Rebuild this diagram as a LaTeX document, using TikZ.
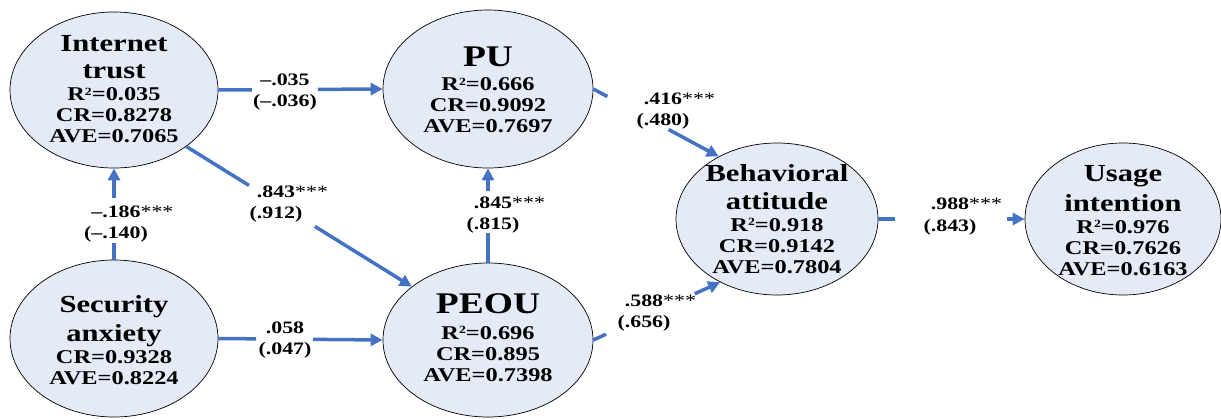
\documentclass[tikz,border=0pt]{standalone}
\usepackage{fontspec}
\setmainfont{Liberation Serif}[FakeStretch=1.25]
\usetikzlibrary{shapes.geometric,arrows.meta,calc}
\definecolor{ellfill}{RGB}{228,234,246}
\definecolor{arrblue}{RGB}{68,114,196}
\newcommand\ttl[1]{{\fontsize{24.5}{28}\selectfont #1}}
\newcommand\bigttl[1]{{\fontsize{30}{34}\selectfont #1}}
\newcommand\stars{\rlap{\mdseries***}}
\newcommand\Rsq{R\raisebox{0.62ex}{\fontsize{11}{11}\selectfont 2}}
\begin{document}
\begin{tikzpicture}[x=1pt,y=-1pt,
  ell/.style={ellipse,draw=black,line width=0.7pt,fill=ellfill,inner sep=0pt},
  txt/.style={align=center,inner sep=0pt,anchor=north,font=\bfseries\fontsize{19.5}{21}\selectfont},
  lab/.style={align=center,inner sep=0pt,font=\bfseries\fontsize{17.5}{21.5}\selectfont},
  conn/.style={draw=arrblue,line width=3.5pt},
  tip/.style={-{Triangle[length=12pt,width=12pt]}}
]
\useasboundingbox (0,0) rectangle (1221,418);

% constructs
\node[ell,minimum width=208pt,minimum height=156pt] (it) at (114,90) {};
\node[ell,minimum width=208pt,minimum height=157pt] (sa) at (114,338.5) {};
\node[ell,minimum width=210pt,minimum height=158pt] (pu) at (488,89) {};
\node[ell,minimum width=210pt,minimum height=154pt] (peou) at (488,340) {};
\node[ell,minimum width=202pt,minimum height=152pt] (ba) at (777,219) {};
\node[ell,minimum width=196pt,minimum height=152pt] (ui) at (1123,219) {};

\node[txt] (itT) at (114,35) {\ttl{Internet}\\[6.5pt]\ttl{trust}\\[1pt]\Rsq=0.035\\CR=0.8278\\AVE=0.7065};
\node[txt] (saT) at (114,295) {\ttl{Security}\\[6.5pt]\ttl{anxiety}\\[1pt]CR=0.9328\\AVE=0.8224};
\node[txt] (puT) at (488,47) {\bigttl{PU}\\[3pt]\Rsq=0.666\\CR=0.9092\\AVE=0.7697};
\node[txt] (peouT) at (488,293) {\bigttl{PEOU}\\[5pt]\Rsq=0.696\\CR=0.895\\AVE=0.7398};
\node[txt] (baT) at (777,164.5) {\ttl{Behavioral}\\[6.5pt]\ttl{attitude}\\[1pt]\Rsq=0.918\\CR=0.9142\\AVE=0.7804};
\node[txt] (uiT) at (1123,165) {\ttl{Usage}\\[6.5pt]\ttl{intention}\\[1pt]\Rsq=0.976\\CR=0.7626\\AVE=0.6163};

% gap coordinates
\coordinate (g1a) at ($(it.east)!0.206!(pu.west)$);
\coordinate (g1b) at ($(it.east)!0.606!(pu.west)$);
\coordinate (g2a) at ($(sa.east)!0.23!(peou.west)$);
\coordinate (g2b) at ($(sa.east)!0.576!(peou.west)$);
\coordinate (g3a) at ($(sa.north)!0.185!(it.south)$);
\coordinate (g3b) at ($(sa.north)!0.674!(it.south)$);
\coordinate (g4a) at ($(peou.north)!0.3125!(pu.south)$);
\coordinate (g4b) at ($(peou.north)!0.76!(pu.south)$);
\coordinate (g5a) at ($(it.-38.8)!0.278!(peou.145)$);
\coordinate (g5b) at ($(it.-38.8)!0.57!(peou.145)$);
\coordinate (g6a) at ($(pu.east)!0.112!(ba.133.6)$);
\coordinate (g6b) at ($(pu.east)!0.6!(ba.133.6)$);
\coordinate (g7a) at ($(peou.east)!0.10!(ba.228.4)$);
\coordinate (g7b) at ($(peou.east)!0.80!(ba.228.4)$);
\coordinate (g8a) at ($(ba.east)!0.116!(ui.west)$);
\coordinate (g8b) at ($(ba.east)!0.878!(ui.west)$);

% connectors
\draw[conn] (it.east) -- (g1a);
\draw[conn,tip] (g1b) -- (pu.west);
\draw[conn] (sa.east) -- (g2a);
\draw[conn,tip] (g2b) -- (peou.west);
\draw[conn] (sa.north) -- (g3a);
\draw[conn,tip] (g3b) -- (it.south);
\draw[conn] (peou.north) -- (g4a);
\draw[conn,tip] (g4b) -- (pu.south);
\draw[conn] (it.-38.8) -- (g5a);
\draw[conn,tip] (g5b) -- (peou.145);
\draw[conn] (pu.east) -- (g6a);
\draw[conn,tip] (g6b) -- (ba.133.6);
\draw[conn] (peou.east) -- (g7a);
\draw[conn,tip] (g7b) -- (ba.228.4);
\draw[conn] (ba.east) -- (g8a);
\draw[conn,tip] (g8b) -- (ui.west);

% path coefficients
\node[lab] (l1) at (285,92) {--.035\\(--.036)};
\node[lab] (l2) at (285,340) {.058\\(.047)};
\node[lab] (l3) at (116,224) {--.186\stars\\(--.140)};
\node[lab] (l4) at (493,215) {.845\stars\\(.815)};
\node[lab] (l5) at (276,204) {.843\stars\\(.912)};
\node[lab] (l6) at (663,111) {.416\stars\\(.480)};
\node[lab] (l7) at (644,313) {.588\stars\\(.656)};
\node[lab] (l8) at (950,216.5) {.988\stars\\(.843)};
\end{tikzpicture}
\end{document}
